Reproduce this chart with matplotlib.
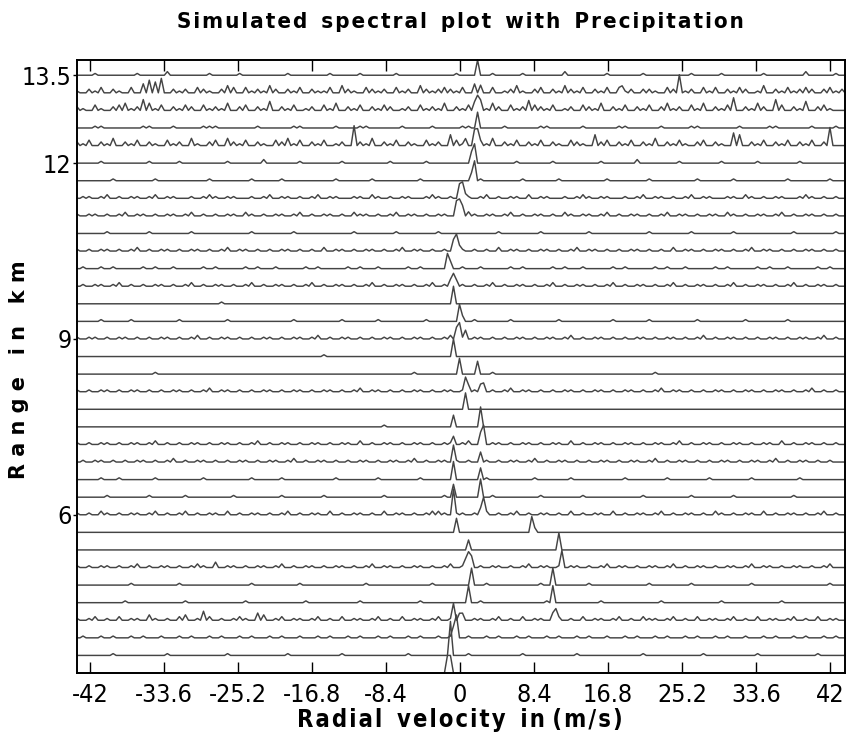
import numpy as np
import matplotlib
matplotlib.use('Agg')
import matplotlib.pyplot as plt

# range gates (km), top to bottom
ranges = [13.5, 13.2, 12.9, 12.6, 12.3, 12.0, 11.7, 11.4, 11.1, 10.8,
          10.5, 10.2, 9.9, 9.6, 9.3, 9.0, 8.7, 8.4, 8.1, 7.8,
          7.5, 7.2, 6.9, 6.6, 6.3, 6.0, 5.7, 5.4, 5.1, 4.8,
          4.5, 4.2, 3.9, 3.6, 3.3]

# noise floor, one char per pair of velocity bins
# (base-36 digit = height level, see NOISE_STEP)
noise = [
    "0001000000100002000000100001000000010000001000010000010000000001000001000010000002000000100000100000001000010000001000000200001",
    "1021302103057680212032102430312142021302113042103212031204212321302103012410230214213021303120221032a120313021320140213123202312",
    "2103102341264130213203121402302150213012031402130213201203121402130214203120321301203214021302130241203140213702142063021502310",
    "0001100000011000100001110000001000001100000100011000001000010000110000010000011000001000001100000100001100000010000110000010001",
    "2130214021302103120410230421302103241302130120b214021302103120631023140213021302103210623021302140213102302107602130213021302a",
    "0000100000001000010000000100000200000100000010000000100000100000001000000100000100000001000002000000100000010000010000001000000",
    "0000001000000100000000100000010000100000000100000100000001000000000100000010000010000000100000010000000100000100000000100000010",
    "0110120101101201100101210110010120110101201100110210101100121010110120101102011001012101100101201101012011001102101011001210101",
    "1011010120110101101201010110210101101201011010211010120110101102101011012010110102101101201011010120110101102101011012010110101",
    "0000010000001000000100000000010000001000000000100000010000001000000000100000010000000100000000010000001000000100000000010000001",
    "1010110101201011010110101201101010110101020110101101012011010101101010201101011010120110101011010102011010110101201101010110101",
    "0100101000010100100001010000101001000010100001010010000101000010100100001010000101001000010100001010010000101000010100100001010",
    "0101101201010110101201011010120101101012010110101201011010120101101012010110101201011010120101101012010110101201011010120101101",
    "0000000000000000000000001000000000000000000000000000000000000000000000000000000000000000000000000000000000000000000000000000000",
    "0000100001000000010000000100000000001000000010000010000000100000001000001000000010000000010000010000000100000001000000100000000",
    "1011010110101011010120101101010110101101201011010101101011010120101101010110101101201011010101101011010120101101010110101101201",
    "0000000000000000000000000000000000000000010000000000000000000000000000000000000000000000000000000000000000000000000000000000000",
    "0000000000000100000000000000000000000000000000000000000010000000000001000000000000000000000000001000000000000000000000000000000",
    "1010110101101010110101201101010110101101011010120110101011010110101101012011010101101011010110101201101010110101101011010120101",
    "0000000000000000000000000000000000000000000000000000000000000000000000000000000000000000000000000000000000000000000000000000000",
    "0000000000000000000000000000000000000000000000000001000000000000000000000000000000000000000000000000000000000000000000000000000",
    "1010110101101201010110101101012010110101101011020101101011010110120101101011010110201011010110101101201011010110101102010110101",
    "0101101010110101201011010101101011012010110101011010110120101101010110101101201011010101101011012010110101011010110120101101010",
    "0000100100000100000001000000010000100000000100000010000001000000000010000000100000100000000100000010000001000000100000001000000",
    "0000010000001000001000000010000000100000010000000001000000000100000001000000010000001000000000100000001000000100000000010000000",
    "1010210101101201012010110201011010120101102010110102011010120101101020101201011010201011020101101201011010210101102010110101201",
    "0000000000000000000000000000000000000000000000000000000000000000000000000000000000000000000000000000000000000000000000000000000",
    "0000000000000000000000000000000000000000000000000000000000000000000000000000000000000000000000000000000000000000000000000000000",
    "1010110101201011010121030110101101201011010110101201101011010120110101101012011010110101201101011012010110101101201101011010120",
    "0000000001000000010000000000010000000100000000001000000000010000000010000000010000000100000000010000001000000000100000000000010",
    "0000000010000000001000000000100000000010000000010000000001000000000100000000001000000001000000000100000000010000000001000000000",
    "1012010201103101023015201012104301201101201020110120102011012010201101201020110120102011012010211012010201101201020110120102011",
    "0100101001010010010100101001010010100100101001010010100101001010010010100101001010010100100101001010010100101001001010010100101",
    "0000001000000001000000000100000000010000000010000000000100000000010000000010000000010000000000100000000010000000010000000001000",
    "0000000000000000000000000000000000000000000000000000000000000000000000000000000000000000000000000000000000000000000000000000000",
]

# spectral peaks per gate: (radial velocity m/s, height km)
peaks = [
    [(1.9, 0.26)],
    [(1.5, 0.09), (2.2, 0.10), (18.3, 0.12)],
    [(1.7, 0.15), (2.0, 0.26), (2.4, 0.12), (7.7, 0.17)],
    [(2.0, 0.27)],
    [(0.5, 0.12), (1.6, 0.22), (1.9, 0.29)],
    [(1.3, 0.20), (1.6, 0.30)],
    [(1.2, 0.14), (1.5, 0.24), (1.8, 0.10)],
    [(-0.1, 0.25), (0.3, 0.25), (0.6, 0.08)],
    [(-0.3, 0.20), (0.0, 0.29), (0.4, 0.15), (0.8, 0.07)],
    [],
    [(-0.8, 0.20), (-0.4, 0.26), (-0.1, 0.10)],
    [(-1.4, 0.26), (-1.1, 0.10)],
    [(-1.0, 0.12), (-0.6, 0.22), (-0.3, 0.08)],
    [(-0.7, 0.30)],
    [(0.0, 0.29), (0.3, 0.10)],
    [(-0.4, 0.20), (0.0, 0.28), (0.5, 0.15)],
    [(-0.9, 0.30)],
    [(-0.2, 0.27), (2.0, 0.22)],
    [(0.5, 0.25), (0.9, 0.12), (2.3, 0.10), (2.6, 0.15)],
    [(0.6, 0.28)],
    [(-0.9, 0.20), (2.3, 0.34)],
    [(-0.9, 0.08), (-0.6, 0.06), (2.3, 0.18), (2.7, 0.33)],
    [(-0.9, 0.29), (2.2, 0.14)],
    [(-0.7, 0.31), (2.3, 0.20)],
    [(-0.7, 0.22), (2.2, 0.31)],
    [(-2.5, 0.06), (-0.9, 0.18), (-0.6, 0.26), (2.2, 0.12), (2.6, 0.30)],
    [(-0.4, 0.24), (8.1, 0.27), (8.5, 0.08)],
    [(0.9, 0.17), (11.1, 0.29)],
    [(0.7, 0.15), (1.0, 0.24), (1.3, 0.20), (11.5, 0.29)],
    [(1.3, 0.29), (10.6, 0.29)],
    [(1.0, 0.29), (10.5, 0.29)],
    [(-0.7, 0.29), (-0.2, 0.12), (0.2, 0.06), (10.5, 0.10), (10.8, 0.20)],
    [(-0.7, 0.20), (-0.4, 0.39)],
    [(-1.2, 0.20), (-1.0, 0.38)],
    [(-1.4, 0.30), (-1.2, 0.30)],
]

xticks = [-42, -33.6, -25.2, -16.8, -8.4, 0, 8.4, 16.8, 25.2, 33.6, 42]
yticks = [6, 9, 12, 13.5]

V_LO, V_HI, N_BINS = -43.5, 43.7, 256
NOISE_STEP = 1.8 * 0.3 / 17.5   # km per noise level

FONT = dict(family=['DejaVu Sans'], fontstretch='condensed')
HS = '\u200a'   # hair space for the letter-spaced labels


def spaced(s):
    return '  '.join(HS.join(w) for w in s.split(' '))


def main():
    vel = np.linspace(V_LO, V_HI, N_BINS)
    fig = plt.figure(figsize=(8.46, 7.47), dpi=100)
    ax = fig.add_axes([77 / 846, 1 - 673 / 747, 768 / 846, 613 / 747])

    for rg, nz, pk in zip(ranges, noise, peaks):
        amp = np.zeros(N_BINS)
        lev = np.array([int(c, 36) for c in nz.ljust(N_BINS // 2, '0')[:N_BINS // 2]])
        amp[0::2] = lev * NOISE_STEP
        for v, h in pk:
            amp[np.argmin(np.abs(vel - v))] += h
        ax.plot(vel, rg + amp, color='#444444', lw=1.05, clip_on=False)

    ax.set_xlim(V_LO, V_HI)
    ax.set_ylim(3.3, 13.76)
    ax.set_xticks(xticks)
    ax.set_xticklabels(['%g' % t for t in xticks], fontsize=18, **FONT)
    ax.set_yticks(yticks)
    ax.set_yticklabels(['%g' % t for t in yticks], fontsize=18, **FONT)
    ax.tick_params(axis='x', direction='in', length=8, width=1, top=True, pad=7)
    ax.tick_params(axis='y', direction='out', length=3, width=1, pad=1)
    for s in ax.spines.values():
        s.set_linewidth(1.4)

    fig.text(0.544, 0.97, spaced('Simulated spectral plot with Precipitation'),
             ha='center', va='center', fontsize=16, fontweight='bold', **FONT)
    fig.text(0.544, 0.036, spaced('Radial velocity in') + ' ' + spaced('(m/s)'),
             ha='center', va='center', fontsize=17, fontweight='bold', **FONT)
    fig.text(0.022, 0.505, ' '.join('Range in km'), rotation=90,
             ha='center', va='center', fontsize=15, fontweight='bold', family=['DejaVu Sans'])

    fig.savefig('out.png', dpi=100)


if __name__ == '__main__':
    main()
